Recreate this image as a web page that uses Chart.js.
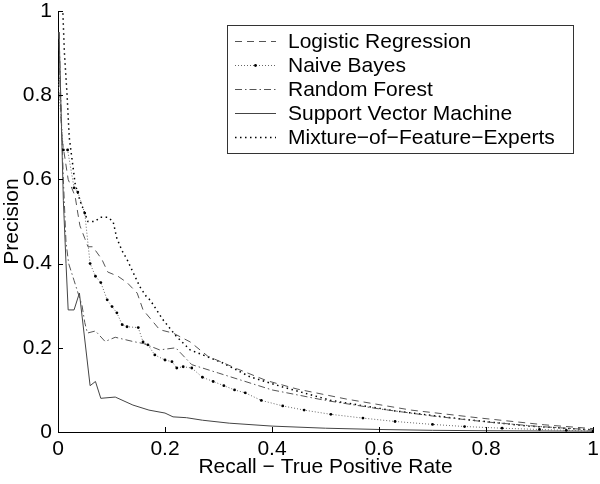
<!DOCTYPE html>
<html>
<head>
<meta charset="utf-8">
<script src="https://cdn.jsdelivr.net/npm/chart.js@4.4.0/dist/chart.umd.min.js"></script>
<style>
html, body { margin: 0; padding: 0; background: #fff; }
</style>
</head>
<body>
<canvas id="prChart" width="600" height="484"></canvas>
<script>
// Nilai (recall, precision)
const seriesLabels = [
    "Logistic Regression",
    "Naive Bayes",
    "Random Forest",
    "Support Vector Machine",
    "Mixture\u2212of\u2212Feature\u2212Experts",
];

const lrRecall = [0.002, 0.004, 0.007, 0.019, 0.032, 0.037, 0.041, 0.05, 0.056, 0.065, 0.082, 0.093, 0.112, 0.129, 0.148, 0.159, 0.19, 0.215, 0.247, 0.28, 0.335, 0.39, 0.447, 0.54, 0.66, 0.79, 0.91, 1.0];
const lrPrecision = [0.95, 0.8, 0.7, 0.6, 0.56, 0.52, 0.49, 0.46, 0.44, 0.44, 0.41, 0.38, 0.37, 0.355, 0.33, 0.29, 0.243, 0.235, 0.214, 0.18, 0.15, 0.122, 0.102, 0.078, 0.052, 0.033, 0.017, 0.008];

const nbRecall = [0.0, 0.01, 0.018, 0.03, 0.037, 0.05, 0.06, 0.07, 0.08, 0.092, 0.101, 0.11, 0.12, 0.129, 0.15, 0.159, 0.168, 0.181, 0.2, 0.213, 0.222, 0.234, 0.25, 0.27, 0.29, 0.31, 0.33, 0.35, 0.38, 0.42, 0.46, 0.51, 0.57, 0.63, 0.7, 0.76, 0.83, 0.9, 0.95, 1.0];
const nbPrecision = [0.84, 0.67, 0.67, 0.58, 0.57, 0.52, 0.4, 0.37, 0.355, 0.314, 0.298, 0.283, 0.255, 0.25, 0.248, 0.214, 0.207, 0.183, 0.171, 0.167, 0.152, 0.155, 0.152, 0.13, 0.12, 0.11, 0.1, 0.093, 0.075, 0.062, 0.052, 0.042, 0.033, 0.025, 0.018, 0.013, 0.009, 0.006, 0.004, 0.002];

const rfRecall = [0.002, 0.005, 0.01, 0.015, 0.02, 0.03, 0.045, 0.05, 0.055, 0.07, 0.088, 0.107, 0.14, 0.16, 0.19, 0.22, 0.25, 0.3, 0.4, 0.5, 0.6, 0.7, 0.8, 0.9, 1.0];
const rfPrecision = [0.95, 0.8, 0.6, 0.45, 0.4, 0.36, 0.3, 0.26, 0.235, 0.24, 0.215, 0.225, 0.215, 0.21, 0.195, 0.2, 0.16, 0.14, 0.1, 0.075, 0.055, 0.038, 0.024, 0.013, 0.005];

const svmRecall = [0.002, 0.006, 0.01, 0.015, 0.019, 0.03, 0.04, 0.06, 0.07, 0.08, 0.107, 0.14, 0.17, 0.2, 0.215, 0.24, 0.27, 0.32, 0.4, 0.5, 0.6, 0.7, 0.8, 1.0];
const svmPrecision = [0.95, 0.75, 0.55, 0.4, 0.29, 0.29, 0.33, 0.11, 0.12, 0.08, 0.083, 0.064, 0.052, 0.045, 0.036, 0.034, 0.028, 0.021, 0.014, 0.009, 0.006, 0.004, 0.003, 0.002];

const mfeRecall = [0.004, 0.009, 0.012, 0.017, 0.021, 0.026, 0.032, 0.041, 0.056, 0.069, 0.079, 0.093, 0.103, 0.11, 0.12, 0.129, 0.14, 0.153, 0.166, 0.172, 0.196, 0.222, 0.247, 0.279, 0.308, 0.359, 0.42, 0.51, 0.63, 0.76, 0.88, 1.0];
const mfePrecision = [1.0, 1.0, 0.9, 0.8, 0.7, 0.65, 0.59, 0.55, 0.5, 0.5, 0.51, 0.51, 0.5, 0.46, 0.43, 0.41, 0.38, 0.345, 0.32, 0.314, 0.267, 0.226, 0.195, 0.179, 0.164, 0.131, 0.107, 0.075, 0.05, 0.03, 0.014, 0.005];

const tickValues = [0, 0.2, 0.4, 0.6, 0.8, 1];
const tickLabels = ["0", "0.2", "0.4", "0.6", "0.8", "1"];

const FONT = '"Liberation Sans", Arial, Helvetica, sans-serif';

function toPoints(xs, ys) {
    return xs.map((x, i) => ({ x: x, y: ys[i] }));
}

// Legenda dengan kotak di dalam area grafik
const boxedLegend = {
    id: "boxedLegend",
    afterDatasetsDraw(chart) {
        const ctx = chart.ctx;
        ctx.save();
        ctx.fillStyle = "#fff";
        ctx.fillRect(227, 25, 346, 128);
        ctx.strokeStyle = "#333";
        ctx.lineWidth = 1;
        ctx.strokeRect(227.5, 25.5, 346, 128);
        ctx.font = "21px " + FONT;
        ctx.textBaseline = "middle";
        chart.data.datasets.forEach((ds, i) => {
            const y = 41 + i * 24;
            ctx.save();
            ctx.strokeStyle = ds.borderColor;
            ctx.lineWidth = ds.borderWidth;
            ctx.setLineDash(ds.borderDash || []);
            ctx.beginPath();
            ctx.moveTo(235, y + 0.5);
            ctx.lineTo(276, y + 0.5);
            ctx.stroke();
            ctx.restore();
            if (ds.pointRadius > 0) {
                ctx.fillStyle = "#000";
                ctx.beginPath();
                ctx.arc(255.5, y + 0.5, ds.pointRadius, 0, Math.PI * 2);
                ctx.fill();
            }
            ctx.fillStyle = "#000";
            ctx.fillText(ds.label, 288, y + 1);
        });
        ctx.restore();
    },
};

// Garis tick mengarah ke dalam
const innerTicks = {
    id: "innerTicks",
    afterDraw(chart) {
        const { ctx, chartArea: a, scales } = chart;
        ctx.save();
        ctx.strokeStyle = "#000";
        ctx.lineWidth = 1;
        ctx.beginPath();
        tickValues.forEach((v) => {
            const px = Math.round(scales.x.getPixelForValue(v)) + 0.5;
            ctx.moveTo(px, a.bottom);
            ctx.lineTo(px, a.bottom - 5);
            const py = Math.round(scales.y.getPixelForValue(v)) + 0.5;
            ctx.moveTo(a.left, py);
            ctx.lineTo(a.left + 5, py);
        });
        ctx.stroke();
        ctx.restore();
    },
};

const ctx = document.getElementById("prChart").getContext("2d");
const chart = new Chart(ctx, {
    type: "line",
    data: {
        datasets: [
            {
                label: seriesLabels[0],
                data: toPoints(lrRecall, lrPrecision),
                borderColor: "#555",
                borderWidth: 1,
                borderDash: [7, 5],
                pointRadius: 0,
            },
            {
                label: seriesLabels[1],
                data: toPoints(nbRecall, nbPrecision),
                borderColor: "#666",
                borderWidth: 1,
                borderDash: [1, 2],
                pointRadius: 1.4,
                pointBackgroundColor: "#000",
                pointBorderWidth: 0,
            },
            {
                label: seriesLabels[2],
                data: toPoints(rfRecall, rfPrecision),
                borderColor: "#555",
                borderWidth: 1,
                borderDash: [7, 3, 1.5, 3],
                pointRadius: 0,
            },
            {
                label: seriesLabels[3],
                data: toPoints(svmRecall, svmPrecision),
                borderColor: "#444",
                borderWidth: 1,
                borderDash: [],
                pointRadius: 0,
            },
            {
                label: seriesLabels[4],
                data: toPoints(mfeRecall, mfePrecision),
                borderColor: "#000",
                borderWidth: 1.5,
                borderDash: [1.5, 3.5],
                pointRadius: 0,
            },
        ],
    },
    options: {
        responsive: false,
        animation: false,
        layout: { padding: { top: 11, right: 7, left: 0, bottom: 0 } },
        elements: { line: { tension: 0, fill: false } },
        plugins: {
            legend: { display: false },
            tooltip: { enabled: false },
        },
        scales: {
            x: {
                type: "linear",
                min: 0,
                max: 1,
                afterFit: (s) => { s.height = 52; s.paddingLeft = 0; s.paddingRight = 0; },
                ticks: {
                    stepSize: 0.2,
                    color: "#000",
                    padding: 5,
                    maxRotation: 0,
                    font: { family: FONT, size: 21 },
                    callback: (v) => tickLabels[Math.round(v * 5)],
                },
                grid: { display: true, drawOnChartArea: false, drawTicks: false },
                border: { display: true, color: "#000", width: 1 },
                title: {
                    display: true,
                    text: "Recall \u2212 True Positive Rate",
                    color: "#000",
                    font: { family: FONT, size: 21 },
                    padding: { top: 0, bottom: 4 },
                },
            },
            y: {
                type: "linear",
                min: 0,
                max: 1,
                afterFit: (s) => { s.width = 58; s.paddingTop = 0; s.paddingBottom = 0; },
                ticks: {
                    stepSize: 0.2,
                    color: "#000",
                    padding: 6,
                    font: { family: FONT, size: 21 },
                    callback: (v) => tickLabels[Math.round(v * 5)],
                },
                grid: { display: true, drawOnChartArea: false, drawTicks: false },
                border: { display: true, color: "#000", width: 1 },
                title: {
                    display: true,
                    text: "Precision",
                    color: "#000",
                    font: { family: FONT, size: 21 },
                    padding: { top: 0, bottom: 0 },
                },
            },
        },
    },
    plugins: [boxedLegend, innerTicks],
});
</script>
</body>
</html>
